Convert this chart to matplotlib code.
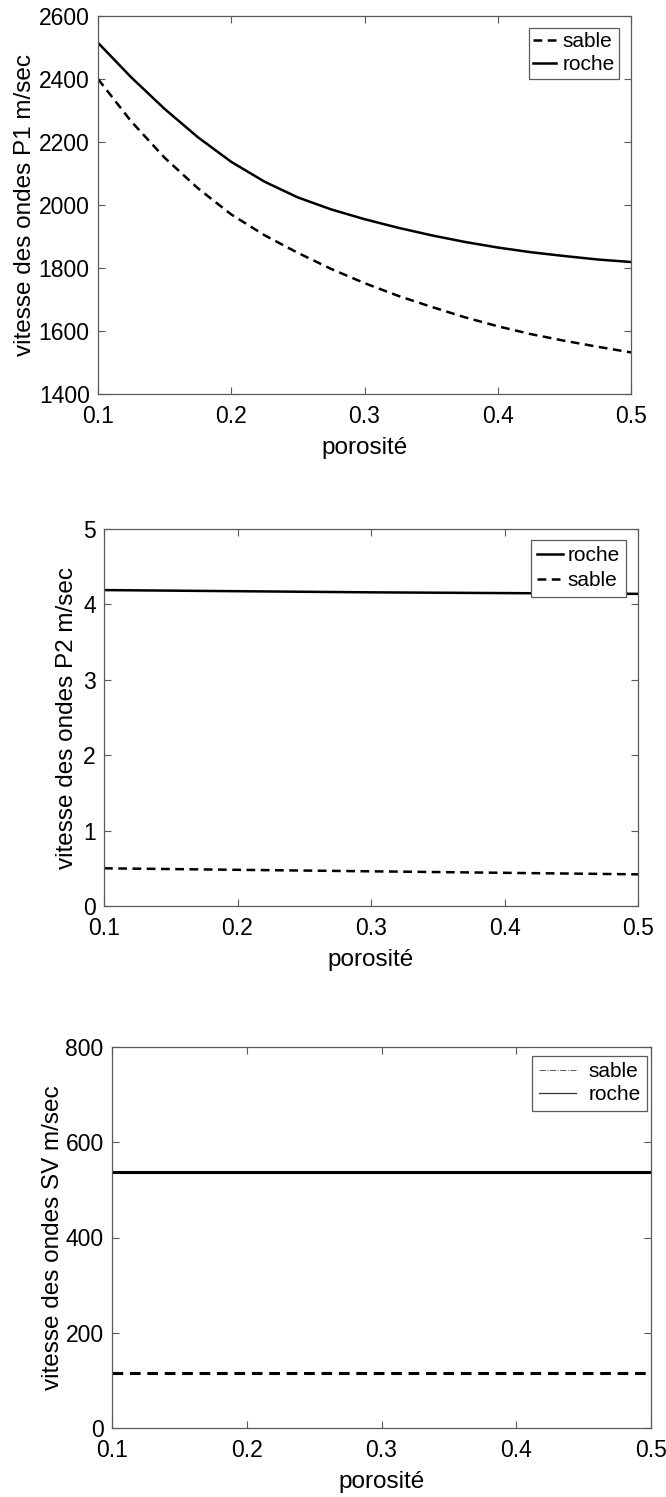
import matplotlib
matplotlib.use('Agg')
import matplotlib.pyplot as plt
from matplotlib.lines import Line2D

plt.rcParams['font.family'] = ['Liberation Sans', 'DejaVu Sans']

# porosité (x axis) for the P1 curves
poro = [0.100, 0.125, 0.150, 0.175, 0.200, 0.225, 0.250, 0.275, 0.300,
        0.325, 0.350, 0.375, 0.400, 0.425, 0.450, 0.475, 0.500]

# P1 wave speed (m/sec)
p1_roche = [2515, 2405, 2305, 2215, 2137, 2074, 2024, 1986, 1955,
            1928, 1904, 1883, 1865, 1850, 1838, 1827, 1819]
p1_sable = [2400, 2265, 2150, 2053, 1970, 1904, 1848, 1797, 1752,
            1712, 1677, 1644, 1615, 1590, 1569, 1550, 1532]

# P2 wave speed (m/sec)
poro_p2 = [0.1, 0.2, 0.3, 0.4, 0.5]
p2_roche = [4.19, 4.175, 4.16, 4.15, 4.14]
p2_sable = [0.50, 0.48, 0.46, 0.44, 0.42]

# SV wave speed (m/sec)
poro_sv = [0.1, 0.5]
sv_roche = [537, 537]
sv_sable = [115, 115]

TICK_FS = 16.5
LABEL_FS = 17.5
LEG_FS = 15
LW = 1.8
DASH = (0, (3.5, 2.2))
EDGE = '#5a5a5a'

W, H = 666, 1497
fig = plt.figure(figsize=(W / 100, H / 100), dpi=100)


def make_ax(left_px, right_px, top_px, bot_px, ylab, ylab_x):
    w, h = right_px - left_px, bot_px - top_px
    ax = fig.add_axes([left_px / W, 1 - bot_px / H, w / W, h / H])
    for s in ax.spines.values():
        s.set_color(EDGE)
        s.set_linewidth(0.9)
    ax.tick_params(direction='in', top=True, right=True, length=5,
                   width=0.8, color=EDGE, labelsize=TICK_FS)
    ax.tick_params(axis='x', pad=8)
    ax.tick_params(axis='y', pad=6)
    ax.set_xlim(0.1, 0.5)
    ax.set_xticks([0.1, 0.2, 0.3, 0.4, 0.5])
    ax.set_xlabel('porosité', fontsize=LABEL_FS, va='center')
    ax.xaxis.set_label_coords(0.5, -54 / h)
    ax.set_ylabel(ylab, fontsize=LABEL_FS, va='center')
    ax.yaxis.set_label_coords((ylab_x - left_px) / w, 0.5)
    return ax


def add_legend(ax, corner, handles=None, labels=None, **kw):
    x, y = corner
    opts = dict(loc='upper right', bbox_to_anchor=(x / W, 1 - y / H),
                bbox_transform=fig.transFigure, borderaxespad=0,
                fontsize=LEG_FS, fancybox=False, framealpha=1,
                borderpad=0.2, labelspacing=0.2)
    opts.update(kw)
    if handles is None:
        leg = ax.legend(**opts)
    else:
        leg = ax.legend(handles, labels, **opts)
    fr = leg.get_frame()
    fr.set_edgecolor(EDGE)
    fr.set_linewidth(0.9)
    fr.set_boxstyle('square', pad=0)
    return leg


# ── P1 ──
ax = make_ax(98, 631, 16, 394, 'vitesse des ondes P1 m/sec', 25)
ax.plot(poro, p1_sable, color='black', lw=LW, linestyle=DASH, label='sable')
ax.plot(poro, p1_roche, color='black', lw=LW, label='roche')
ax.set_ylim(1400, 2600)
ax.set_yticks(range(1400, 2601, 200))
add_legend(ax, (619, 28), handlelength=1.1, handletextpad=0.3)

# ── P2 ──
ax = make_ax(104, 638, 529, 906, 'vitesse des ondes P2 m/sec', 67)
ax.plot(poro_p2, p2_roche, color='black', lw=LW, label='roche')
ax.plot(poro_p2, p2_sable, color='black', lw=LW, linestyle=DASH, label='sable')
ax.set_ylim(0, 5)
ax.set_yticks(range(0, 6))
add_legend(ax, (626, 540), handlelength=1.25, handletextpad=0.2,
           borderpad=0.3, labelspacing=0.3)

# ── SV ──
ax = make_ax(112, 651, 1047, 1428, 'vitesse des ondes SV m/sec', 53)
ax.plot(poro_sv, sv_roche, color='black', lw=LW + 0.4)
ax.plot(poro_sv, sv_sable, color='black', lw=LW + 0.4, linestyle=DASH)
ax.set_ylim(0, 800)
ax.set_yticks(range(0, 801, 200))
handles = [Line2D([], [], color='#555555', lw=0.7, linestyle='-.'),
           Line2D([], [], color='#333333', lw=0.9)]
add_legend(ax, (647, 1056), handles, ['sable', 'roche'],
           handlelength=1.8, handletextpad=0.6, borderpad=0.3)

fig.savefig('out.png', dpi=100, facecolor='white')
